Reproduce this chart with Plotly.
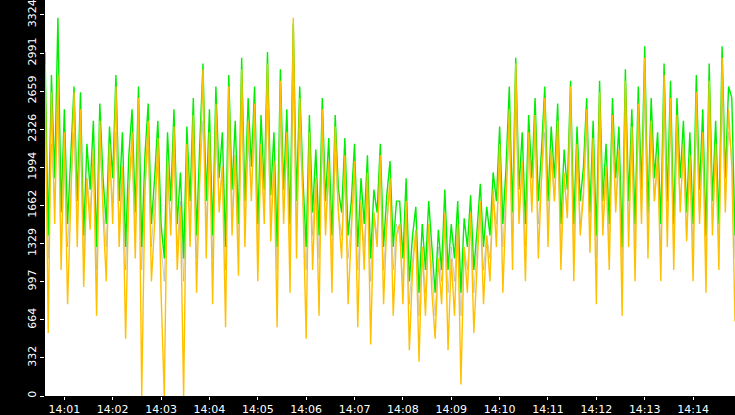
import plotly.graph_objects as go
import pandas as pd

start = pd.Timestamp("2024-01-01 14:00:36")
n_step = 4  # seconds between samples

orange = [2900, 550, 2650, 1500, 2800, 1100,
          2300, 800, 1700, 2650, 1300, 2500, 950, 1900, 1450, 2150, 700, 2400, 1600, 1000, 2200,
          1500, 2700, 1300, 2000, 500, 1750, 2300, 1200, 2600, 0, 1800, 2400, 1000, 1500,
          2250, 900, 0, 2050, 1400, 2350, 1100, 1650, 0, 2200, 1300, 2450, 900, 1900, 2850,
          1200, 2300, 800, 2550, 1600, 2000, 600, 2700, 1400, 2100, 1050, 2850, 1300, 2400, 1700,
          2550, 1000, 2200, 1500, 2900, 1350, 2050, 600, 2750, 1500, 2300, 900, 3300, 1200, 2600,
          1700, 500, 2300, 1100, 1900, 700, 2500, 1400, 2050, 900, 2350, 1600, 1200, 2100, 800,
          1400, 2050, 600, 1700, 1100, 1950, 450, 1600, 1300, 2100, 800, 1500, 1900, 700, 1400,
          1500, 800, 1700, 400, 1100, 1450, 300, 1300, 700, 1500, 900, 500, 1200, 800, 1600,
          400, 1200, 700, 1500, 100, 1300, 900, 1600, 550, 1150, 1700, 800, 1400, 1000, 1800,
          1300, 2200, 900, 1750, 2500, 1100, 2900, 1500, 2050, 1000, 2300, 1600, 2450, 1200, 1900,
          2600, 1300, 2150, 1700, 2400, 1100, 1950, 1550, 2700, 1000, 2200, 1400, 1750, 2500, 1250,
          2250, 800, 2650, 1400, 2000, 1100, 2450, 1600, 2150, 700, 2750, 1300, 2350, 1000, 2550,
          1500, 2950, 1200, 2400, 1700, 2100, 1000, 2800, 1300, 2600, 1100, 2450, 1600, 2200, 1350,
          2100, 1000, 2650, 1500, 2300, 900, 2750, 1400, 2200, 1100, 2950, 1600, 2500, 2000, 650]

green = [3000, 1400, 2800, 1900, 3300, 1600,
         2500, 1500, 2100, 2700, 1700, 2650, 1400, 2200, 1800, 2400, 1300, 2550, 1900, 1500, 2350,
         1900, 2800, 1700, 2300, 1300, 2100, 2500, 1600, 2700, 1300, 2100, 2550, 1500, 1900,
         2400, 1500, 1200, 2300, 1700, 2500, 1500, 1950, 1200, 2350, 1700, 2600, 1400, 2200, 2900,
         1700, 2500, 1400, 2700, 1900, 2300, 1300, 2800, 1800, 2400, 1500, 2950, 1700, 2600, 2000,
         2700, 1500, 2450, 1800, 3000, 1750, 2300, 1300, 2850, 1800, 2500, 1500, 3250, 1700, 2700,
         1900, 1300, 2450, 1600, 2150, 1400, 2600, 1700, 2250, 1400, 2450, 1800, 1600, 2250, 1400,
         1700, 2200, 1300, 1900, 1500, 2100, 1200, 1800, 1600, 2200, 1300, 1750, 2050, 1300, 1700,
         1700, 1200, 1900, 1000, 1400, 1650, 900, 1500, 1100, 1700, 1300, 900, 1450, 1100, 1800,
         1100, 1500, 1200, 1700, 900, 1550, 1300, 1750, 1100, 1450, 1850, 1300, 1650, 1400, 1950,
         1700, 2350, 1500, 2000, 2700, 1600, 2950, 1800, 2300, 1500, 2450, 1900, 2600, 1700, 2150,
         2700, 1700, 2350, 1900, 2550, 1500, 2150, 1800, 2750, 1500, 2350, 1700, 2000, 2600, 1600,
         2400, 1400, 2750, 1700, 2200, 1500, 2600, 1900, 2350, 1300, 2850, 1700, 2500, 1500, 2700,
         1800, 3050, 1600, 2600, 1900, 2300, 1500, 2900, 1700, 2750, 1500, 2600, 1900, 2400, 1600,
         2300, 1500, 2800, 1800, 2500, 1400, 2900, 1700, 2400, 1500, 3050, 1900, 2700, 2600, 1400]

grey = [2400, 1200, 2200, 1700, 2500, 1300,
        2000, 1300, 1800, 2300, 1500, 2200, 1200, 1900, 1600, 2100, 1100, 2200, 1700, 1300, 2000,
        1700, 2300, 1500, 2000, 1100, 1800, 2100, 1400, 2200, 1100, 1800, 2200, 1300, 1700,
        2000, 1300, 1000, 1900, 1500, 2100, 1300, 1700, 1000, 2000, 1500, 2200, 1200, 1900, 2400,
        1500, 2100, 1200, 2300, 1700, 2000, 1100, 2400, 1600, 2100, 1300, 2500, 1500, 2200, 1800,
        2300, 1300, 2100, 1600, 2500, 1500, 2000, 1100, 2400, 1600, 2200, 1300, 2700, 1500, 2300,
        1700, 1100, 2100, 1400, 1900, 1200, 2200, 1500, 1900, 1200, 2100, 1600, 1400, 1900, 1200,
        1500, 1900, 1100, 1600, 1300, 1800, 1000, 1600, 1400, 1900, 1100, 1500, 1800, 1100, 1500,
        1400, 1000, 1600, 800, 1200, 1400, 700, 1300, 900, 1500, 1100, 700, 1300, 1000, 1500,
        900, 1300, 1000, 1500, 700, 1300, 1100, 1500, 900, 1300, 1600, 1100, 1400, 1200, 1700,
        1500, 2000, 1300, 1800, 2300, 1400, 2500, 1600, 2000, 1300, 2200, 1700, 2300, 1500, 1900,
        2300, 1500, 2100, 1700, 2200, 1300, 1900, 1600, 2400, 1300, 2100, 1500, 1800, 2300, 1400,
        2100, 1200, 2400, 1500, 1900, 1300, 2300, 1700, 2100, 1100, 2500, 1500, 2200, 1300, 2400,
        1600, 2600, 1400, 2300, 1700, 2000, 1300, 2500, 1500, 2400, 1300, 2300, 1700, 2100, 1400,
        2000, 1300, 2400, 1600, 2200, 1200, 2500, 1500, 2100, 1300, 2600, 1700, 2300, 2100, 1200]

times = [start + pd.Timedelta(seconds=n_step * i) for i in range(len(orange))]

fig = go.Figure()
fig.add_trace(go.Scatter(x=times, y=grey, mode="lines",
                         line=dict(color="#a8a8a8", width=0.6)))
fig.add_trace(go.Scatter(x=times, y=green, mode="lines",
                         line=dict(color="#00ee00", width=1.4)))
fig.add_trace(go.Scatter(x=times, y=orange, mode="lines",
                         line=dict(color="#ffc000", width=1.4)))

yticks = [0, 332, 664, 997, 1329, 1662, 1994, 2326, 2659, 2991, 3324]
xticks = [pd.Timestamp("2024-01-01 14:%02d:00" % m) for m in range(1, 15)]
xlabels = ["14:%02d" % m for m in range(1, 15)]

fig.update_layout(
    width=735, height=415,
    margin=dict(l=45, r=0, t=0, b=19, pad=0),
    paper_bgcolor="black", plot_bgcolor="white",
    showlegend=False,
    font=dict(family="DejaVu Sans", size=11, color="white"),
    xaxis=dict(range=[times[0], times[-1]],
               tickvals=xticks, ticktext=xlabels, showgrid=False,
               zeroline=False, ticks="outside", ticklen=3, tickcolor="white",
               ticklabeloverflow="allow", automargin=False),
    yaxis=dict(range=[0, 3454], tickvals=yticks, ticktext=[str(v) for v in yticks],
               tickangle=-90, showgrid=False, zeroline=False,
               ticks="outside", ticklen=4, tickcolor="white",
               ticklabeloverflow="allow", automargin=False),
)
fig.write_html("out.html", config={"displayModeBar": False},
               post_script="document.body.style.margin='0';document.body.style.padding='0';")
